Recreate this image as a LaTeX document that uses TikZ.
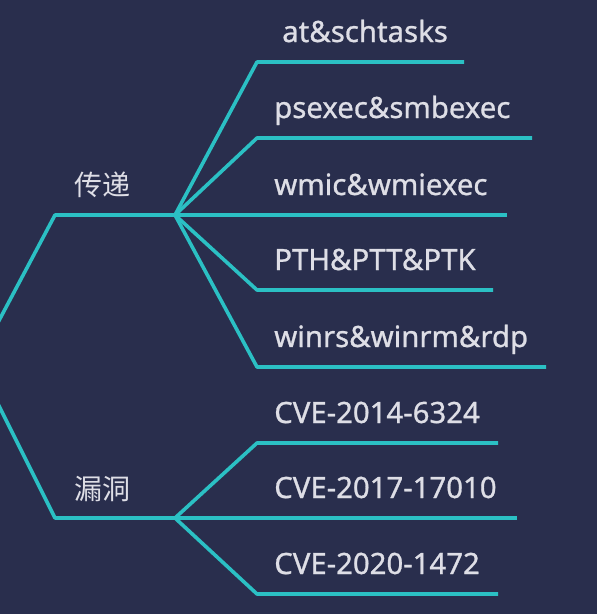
\documentclass[tikz,border=0pt]{standalone}
\usepackage{fontspec}
\setmainfont{Noto Sans}[FakeBold=0.9]
\newfontfamily\cjk{Noto Sans CJK SC}
\definecolor{bgblue}{RGB}{41,46,77}
\definecolor{lineteal}{RGB}{43,192,196}
\definecolor{txtgrey}{RGB}{222,222,230}

\begin{document}
\begin{tikzpicture}[x=0.75pt,y=-0.75pt,
	branch/.style={line width=2.7pt,lineteal,line join=round},
	leaf/.style={txtgrey,anchor=base west,inner sep=0pt,font=\bfseries\fontsize{22}{26}\selectfont},
	topic/.style={txtgrey,inner sep=0pt,font=\cjk\fontsize{21}{25}\selectfont}]
	\fill[bgblue] (0,0) rectangle (597,614);
	\clip (0,0) rectangle (597,614);

	\coordinate (root) at (-23,362);
	\coordinate (CD) at (55,215);
	\coordinate (CDj) at (175,215);
	\coordinate (LD) at (55,518);
	\coordinate (LDj) at (175,518);

	\node [topic](cd) at (102,185) {传递};
	\node [topic](ld) at (102,489) {漏洞};

	\node [leaf](at) at (282,42) {at\&schtasks};
	\node [leaf](ps) at (274,118) {psexec\&smbexec};
	\node [leaf](wm) at (274,195) {wmic\&wmiexec};
	\node [leaf](pt) at (274,270) {PTH\&PTT\&PTK};
	\node [leaf](wr) at (274,347) {winrs\&winrm\&rdp};
	\node [leaf](c14) at (274,423) {CVE-2014-6324};
	\node [leaf](c17) at (274,498) {CVE-2017-17010};
	\node [leaf](c20) at (274,574) {CVE-2020-1472};

	\coordinate (at1) at (257,62);   \coordinate (at2) at (464,62);
	\coordinate (ps1) at (257,138);  \coordinate (ps2) at (532,138);
	\coordinate (wm2) at (507,215);
	\coordinate (pt1) at (257,290);  \coordinate (pt2) at (493,290);
	\coordinate (wr1) at (257,367);  \coordinate (wr2) at (546,367);
	\coordinate (c141) at (257,443); \coordinate (c142) at (498,443);
	\coordinate (c172) at (517,518);
	\coordinate (c201) at (257,594); \coordinate (c202) at (498,594);

	\draw [branch] (root) to (CD) to (CDj);
	\draw [branch] (root) to (LD) to (LDj);

	\draw [branch] (CDj) to (at1) to (at2);
	\draw [branch] (CDj) to (ps1) to (ps2);
	\draw [branch] (CDj) to (wm2);
	\draw [branch] (CDj) to (pt1) to (pt2);
	\draw [branch] (CDj) to (wr1) to (wr2);

	\draw [branch] (LDj) to (c141) to (c142);
	\draw [branch] (LDj) to (c172);
	\draw [branch] (LDj) to (c201) to (c202);
\end{tikzpicture}
\end{document}
